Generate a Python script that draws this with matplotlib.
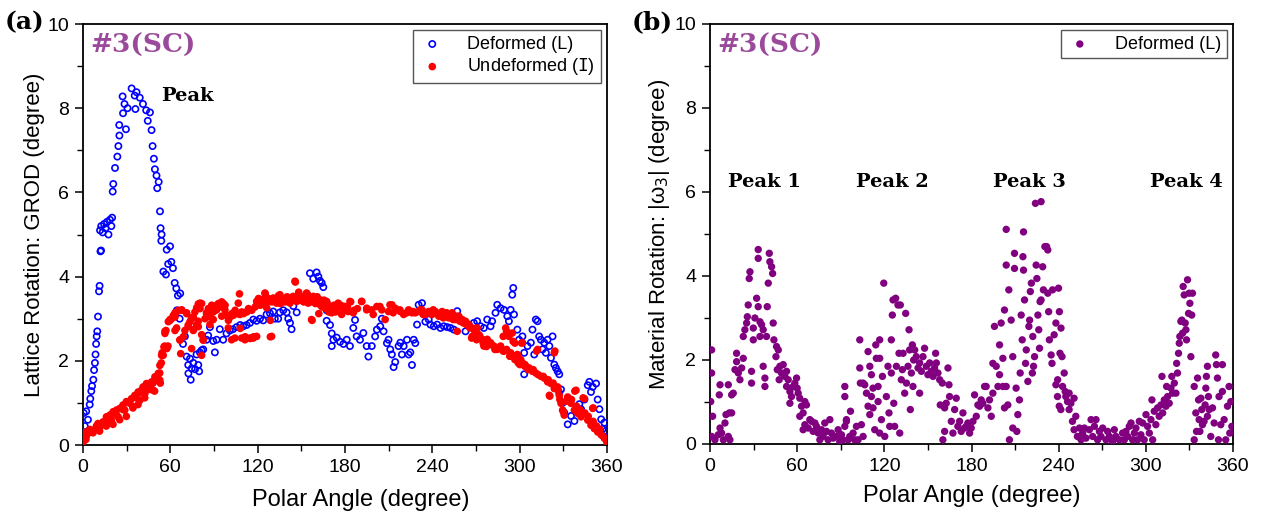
import numpy as np
import matplotlib.pyplot as plt

# (a) lattice rotation vs polar angle
def_ang = [0.5, 1.2, 2.2, 3.4, 4.6, 5.0, 5.7, 6.2, 7.1, 7.6, 8.2, 8.6, 9.0, 9.4, 9.8, 10.3, 11.0, 11.4,
           12.0, 12.4, 11.7, 12.5, 13.5, 14.5, 15.5, 16.5, 17.5, 18.5, 19.5, 20.0, 20.4, 20.8, 22.0, 23.6,
           24.3, 24.9, 25.0, 27.2, 27.5, 28.5, 29.5, 30.6, 33.4, 35.5, 36.0, 36.8, 39.0, 41.2, 43.4, 44.5,
           46.0, 47.1, 47.8, 48.7, 49.4, 50.5, 51.0, 52.0, 52.9, 53.3, 54.0, 53.8, 55.2, 57.0, 57.5, 58.5,
           59.8, 60.7, 61.8, 63.0, 64.1, 65.2, 66.8, 64.5, 66.4, 68.7, 70.0, 71.2, 72.3, 72.4, 73.5, 74.0,
           74.7, 75.8, 77.0, 78.0, 79.2, 79.8, 80.3, 81.5, 82.6, 84.9, 86.0, 87.2, 89.5, 90.6, 91.8, 94.0,
           96.3, 98.6, 100.9, 103.0, 105.5, 108.0, 110.1, 112.4, 114.7, 117.0, 119.3, 121.6, 123.8, 126.1,
           128.4, 130.7, 131.8, 134.1, 135.3, 137.6, 139.9, 141.0, 142.2, 143.3, 144.5, 146.8, 149.1, 151.4,
           153.7, 155.9, 158.2, 160.5, 161.7, 162.8, 164.0, 165.1, 166.3, 167.4, 167.4, 169.7, 170.9, 170.9,
           172.0, 174.3, 176.6, 178.9, 181.2, 183.4, 185.7, 186.9, 188.0, 190.3, 192.6, 194.9, 196.1, 198.4,
           200.7, 201.9, 204.2, 205.3, 206.5, 208.8, 209.9, 211.1, 212.2, 213.4, 214.5, 216.8, 218.0, 219.1,
           220.3, 222.6, 223.7, 224.9, 226.0, 227.2, 228.3, 229.5, 230.6, 232.9, 235.2, 237.5, 238.7, 241.0,
           243.3, 245.6, 247.9, 250.2, 252.5, 254.8, 257.1, 259.4, 262.8, 265.1, 268.5, 270.8, 273.1, 275.4,
           277.7, 280.0, 281.1, 283.4, 284.6, 286.9, 289.2, 291.5, 292.6, 293.8, 294.9, 295.6, 296.1, 298.4,
           299.6, 301.9, 303.1, 303.1, 305.4, 307.7, 308.8, 310.0, 311.1, 312.3, 313.4, 314.6, 315.7, 316.9,
           318.0, 319.2, 320.4, 321.5, 322.6, 323.8, 324.9, 326.1, 327.2, 327.2, 328.4, 329.5, 330.6, 333.0,
           335.3, 337.6, 338.7, 341.0, 342.2, 344.5, 346.8, 347.9, 349.0, 350.2, 352.5, 353.6, 354.8, 356.0,
           357.0, 358.2, 359.4]
def_val = [0.76, 0.45, 0.8, 0.6, 0.96, 1.1, 1.28, 1.4, 1.55, 1.78, 1.95, 2.15, 2.4, 2.58, 2.7, 3.05, 3.65, 3.78,
           4.6, 4.62, 5.1, 5.2, 5.05, 5.25, 5.15, 5.3, 5.0, 5.35, 5.2, 5.4, 6.02, 6.2, 6.58, 6.85,
           7.1, 7.6, 7.35, 8.28, 7.88, 8.1, 7.5, 8.0, 8.47, 8.3, 7.98, 8.38, 8.25, 8.1, 7.95, 7.7,
           7.9, 7.48, 7.1, 6.8, 6.55, 6.4, 6.1, 6.25, 5.55, 5.15, 5.0, 4.85, 4.12, 4.05, 4.64, 4.3,
           4.72, 4.35, 4.2, 3.85, 3.72, 3.55, 3.6, 3.2, 3.0, 2.4, 2.58, 2.1, 1.9, 1.7, 2.05, 1.55,
           1.82, 1.95, 1.8, 2.15, 1.9, 1.75, 2.2, 2.25, 2.27, 2.5, 2.6, 2.8, 2.47, 2.2, 2.5, 2.75,
           2.5, 2.65, 2.72, 2.75, 2.8, 2.85, 2.82, 2.85, 2.9, 2.98, 2.95, 3.0, 2.96, 3.1,
           3.13, 3.17, 3.0, 3.0, 3.15, 3.2, 3.15, 3.0, 2.9, 2.75, 3.3, 3.15, 3.5, 3.5,
           3.58, 4.08, 3.95, 4.1, 4.0, 3.9, 3.85, 3.75, 3.4, 3.2, 2.95, 2.85, 2.65, 2.35,
           2.5, 2.55, 2.45, 2.4, 2.5, 2.35, 2.78, 2.97, 2.58, 2.5, 2.66, 2.35, 2.1, 2.35,
           2.58, 2.74, 2.82, 3.0, 2.7, 2.42, 2.5, 2.27, 2.15, 1.85, 1.97, 2.35, 2.43, 2.15,
           2.35, 2.5, 2.15, 2.2, 1.9, 2.5, 2.42, 2.86, 3.33, 3.37, 2.93, 2.98, 2.86, 2.82,
           2.86, 2.78, 2.82, 2.8, 2.78, 2.74, 3.18, 2.98, 2.7, 2.86, 2.9, 2.94, 2.82, 2.78,
           2.98, 2.82, 2.94, 3.14, 3.33, 3.25, 3.21, 3.06, 2.94, 3.21, 3.57, 3.73, 3.1, 2.74,
           2.5, 2.58, 2.19, 1.68, 2.35, 2.43, 2.74, 2.15, 2.98, 2.94, 2.58, 2.5, 2.27, 2.43,
           2.19, 2.5, 2.35, 2.07, 2.58, 1.91, 1.83, 1.75, 1.68, 1.24, 1.32, 1.0, 0.77, 0.49,
           0.69, 0.57, 0.85, 0.97, 0.85, 1.08, 1.42, 1.5, 1.26, 1.38, 1.46, 1.08, 0.85, 0.61,
           0.38, 0.53, 0.34]

und_ang = [0.2, 2.0, 1.0, 4.5, 7.0, 9.2, 10.3, 11.5, 13.8, 16.1, 16.1, 18.4, 19.5, 20.7, 23.0, 24.1, 25.3,
           27.5, 28.7, 29.8, 32.1, 33.3, 34.4, 35.6, 36.7, 37.9, 39.0, 40.2, 41.3, 42.5, 43.6, 44.8, 45.9,
           47.1, 48.2, 49.4, 50.5, 51.7, 52.8, 52.8, 54.0, 55.1, 55.6, 56.3, 57.0, 57.5, 58.6, 59.8, 60.9,
           62.1, 63.2, 63.2, 64.3, 65.5, 66.6, 67.1, 67.8, 68.9, 70.0, 71.2, 72.3, 73.5, 74.6, 74.6, 75.8,
           75.8, 76.9, 78.0, 79.2, 79.2, 80.4, 81.5, 81.5, 82.6, 83.8, 84.9, 86.1, 87.2, 88.4, 89.5, 90.7,
           91.8, 93.0, 94.1, 95.3, 96.4, 97.6, 98.7, 99.9, 101.0, 102.2, 103.3, 104.5, 105.6, 107.5, 108.0,
           109.1, 110.3, 111.4, 112.6, 113.7, 114.9, 116.0, 117.2, 118.3, 119.5, 120.6, 121.8, 122.9, 124.1,
           125.2, 126.4, 127.5, 128.7, 128.7, 129.8, 131.0, 132.1, 133.3, 134.4, 135.6, 136.7, 137.9, 139.0,
           140.2, 141.3, 142.5, 145.9, 147.1, 148.2, 149.4, 150.5, 151.7, 154.0, 155.1, 156.3, 157.4, 158.6,
           159.7, 160.9, 162.0, 163.2, 164.3, 165.5, 166.6, 167.8, 168.9, 170.1, 171.2, 172.4, 173.5, 174.7,
           177.0, 179.3, 181.6, 183.9, 186.2, 188.5, 191.5, 194.9, 198.4, 201.9, 205.3, 207.6, 209.9, 212.2,
           214.5, 218.0, 220.3, 223.7, 226.0, 228.3, 230.6, 232.9, 235.2, 237.5, 239.8, 242.1, 244.4, 246.7,
           249.0, 251.3, 253.6, 255.9, 257.1, 258.2, 260.5, 262.8, 265.1, 267.4, 267.4, 269.7, 270.8, 272.0,
           274.3, 275.4, 277.7, 280.0, 282.3, 284.6, 286.9, 289.2, 290.4, 291.5, 292.6, 293.8, 294.9, 296.1,
           297.3, 298.4, 300.7, 301.9, 301.9, 304.2, 306.5, 308.8, 311.1, 312.3, 314.6, 316.9, 319.2, 321.5,
           323.8, 323.8, 326.1, 327.2, 320.4, 328.4, 329.5, 330.6, 333.0, 335.3, 337.6, 338.7, 339.9, 342.2,
           344.5, 346.8, 349.0, 350.2, 351.3, 353.6, 356.0, 358.2, 359.8,
           2.3, 4.6, 6.9, 9.2, 11.4, 13.7, 16.0, 18.3, 20.6, 22.9, 25.2, 27.5, 29.8, 32.1, 34.3, 36.6,
           37.8, 40.1, 42.4, 43.5, 45.8, 48.1, 49.2, 51.5, 52.7, 53.1, 53.8, 54.3, 56.1, 58.4,
           56.3, 57.5, 59.8, 63.2, 64.3, 66.6, 67.8, 71.2, 72.3, 74.6, 75.8, 78.1, 79.2, 80.4, 81.5, 82.6,
           84.9, 87.2, 89.5, 91.8, 94.1, 95.3, 97.5, 99.8, 102.1, 104.4, 106.7, 107.8, 109.0, 111.3, 113.5,
           114.7, 117.0, 119.3, 119.3, 121.6, 123.8, 125.0, 126.2, 128.4, 129.6, 130.7, 133.0, 135.3, 137.6,
           139.9, 142.2, 144.4, 145.6, 146.8, 149.0, 151.3, 153.6, 154.7, 157.0, 158.2, 160.5, 162.8, 165.0,
           167.4, 168.5, 170.8, 173.1, 175.3, 177.7, 180.0, 182.2,
           178.8, 183.4, 185.7, 191.4, 194.9, 199.4, 204.0, 210.9, 213.1, 217.7, 222.3, 226.9, 231.5, 233.7,
           238.3, 240.6, 245.2, 247.5, 249.8, 254.3, 256.6, 258.9, 261.2, 263.5, 265.8, 267.0, 269.2, 270.4,
           272.7, 274.9, 277.2, 280.7, 283.0, 286.4, 288.7, 291.0, 293.3, 295.5, 296.7, 299.0, 301.3, 303.6,
           288.7, 291.0, 293.3, 296.7, 297.9, 300.1, 303.6, 305.8, 309.3, 311.6, 312.7, 316.2, 319.6, 323.0,
           324.2, 320.7, 326.4, 327.6, 329.9, 332.2, 335.6, 337.9, 339.1, 341.3, 343.6, 344.8, 347.1, 350.5,
           350.5, 352.8, 355.1, 357.3]
und_val = [0.08, 0.13, 0.3, 0.3, 0.35, 0.39, 0.51, 0.43, 0.55, 0.55, 0.67, 0.71, 0.59, 0.79, 0.83, 0.67, 0.87,
           0.95, 0.83, 1.03, 0.99, 1.1, 0.91, 1.18, 1.14, 1.26, 1.06, 1.3, 1.38, 1.22, 1.46, 1.34, 1.42,
           1.5, 1.3, 1.62, 1.54, 1.7, 1.54, 1.89, 2.13, 2.13, 2.33, 2.65, 2.72, 2.29, 2.93, 2.96, 3.0,
           3.08, 3.04, 2.72, 3.16, 3.2, 2.49, 2.17, 3.2, 2.57, 2.72, 3.12, 2.85, 2.93, 3.0, 2.29, 2.72,
           3.04, 3.16, 2.85, 2.81, 3.35, 3.24, 3.36, 2.13, 2.49, 3.0, 3.12, 3.24, 3.04, 3.32, 3.16, 3.2,
           3.32, 3.36, 3.28, 3.4, 3.36, 3.32, 3.08, 2.96, 3.04, 3.12, 3.08, 3.2, 3.12, 3.59, 2.77,
           3.16, 3.12, 2.57, 3.16, 3.24, 2.53, 3.2, 2.57, 3.28, 3.4, 3.48, 3.32, 3.44, 3.36,
           3.59, 3.4, 3.48, 2.96, 2.57, 3.4, 3.48, 3.44, 3.4, 3.55, 3.36, 3.44, 3.48, 3.4,
           3.52, 3.44, 3.48, 3.87, 3.52, 3.63, 3.44, 3.52, 3.4, 3.59, 3.48, 3.4, 2.96, 3.48,
           3.36, 3.52, 3.12, 3.32, 3.28, 3.44, 3.24, 3.36, 3.16, 3.28, 3.2, 3.32, 3.16, 3.24,
           3.32, 3.2, 3.28, 3.4, 3.2, 3.24, 3.41, 3.25, 3.21, 3.29, 3.21, 2.98, 3.17, 3.33,
           3.25, 3.17, 3.1, 3.21, 3.14, 3.14, 3.17, 3.21, 3.1, 3.17, 3.1, 3.17, 3.06, 3.17,
           3.1, 3.02, 3.14, 2.98, 2.7, 3.06, 2.98, 2.94, 2.86, 2.78, 2.58, 2.55, 2.78, 2.62,
           2.51, 2.35, 2.51, 2.43, 2.35, 2.27, 2.35, 2.23, 2.78, 2.62, 2.58, 2.19, 2.66, 2.11,
           2.03, 2.15, 2.03, 2.43, 1.95, 1.87, 1.83, 1.75, 1.71, 2.27, 1.63, 1.59, 1.5, 1.46,
           2.19, 1.34, 1.38, 1.18, 1.18, 0.99, 0.83, 0.71, 1.14, 0.99, 0.83, 1.3, 0.75, 0.67,
           1.1, 0.59, 0.47, 0.87, 0.39, 0.31, 0.24, 0.16, 0.08,
           0.21, 0.37, 0.29, 0.45, 0.33, 0.53, 0.45, 0.61, 0.49, 0.72, 0.6, 0.84, 0.68, 1.04, 0.88, 1.12,
           0.96, 1.24, 1.12, 1.36, 1.32, 1.47, 1.28, 1.59, 1.71, 1.47, 1.95, 2.19, 2.35, 2.35,
           2.7, 2.3, 2.98, 3.14, 2.78, 2.5, 3.21, 3.14, 2.82, 3.02, 2.74, 3.26, 2.94, 3.37, 2.62, 2.5,
           3.14, 2.86, 2.98, 3.21, 3.33, 3.06, 3.21, 2.78, 2.5, 2.54, 3.37, 3.1, 2.54, 2.5, 3.21,
           2.54, 2.54, 2.58, 3.41, 3.37, 3.45, 3.61, 3.26, 3.41, 2.58, 3.49, 3.37, 3.57, 3.41,
           3.49, 3.37, 3.53, 3.89, 3.41, 3.49, 3.41, 3.61, 3.37, 2.98, 3.53, 3.37, 3.45, 3.29,
           3.41, 3.21, 3.14, 3.26, 3.37, 3.1, 3.29, 3.17,
           3.29, 3.41, 3.14, 3.41, 3.21, 3.1, 3.29, 3.33, 3.14, 3.21, 3.14, 3.17, 3.21, 3.1,
           3.14, 3.21, 3.1, 3.02, 3.14, 2.98, 3.06, 2.94, 2.9, 2.86, 2.78, 2.54, 2.7, 2.5,
           2.58, 2.42, 2.34, 2.38, 2.27, 2.31, 2.23, 2.7, 2.11, 2.46, 2.03, 1.95, 2.42, 1.87,
           2.58, 2.27, 2.11, 2.42, 2.03, 1.91, 1.91, 1.79, 1.79, 2.23, 1.67, 1.63, 1.55, 1.47,
           2.23, 1.16, 1.32, 1.08, 0.8, 1.04, 1.08, 1.28, 0.92, 0.84, 1.12, 0.76, 0.68, 0.88,
           0.56, 0.45, 0.37, 0.21]

# (b) material rotation |w3| vs polar angle
rot_ang = [1.1, 1.1, 0.5, 1.8, 1.1, 3.4, 5.7, 6.9, 6.9, 6.4, 8.0, 9.2, 10.3, 11.0, 12.6, 13.7, 13.3, 14.9,
           12.6, 14.9, 16.0, 17.2, 18.3, 18.3, 19.5, 20.6, 21.8, 22.9, 22.9, 24.0, 25.2, 25.7, 26.3, 27.0,
           27.5, 28.6, 29.8, 28.6, 29.8, 30.9, 32.1, 33.2, 33.2, 33.2, 34.4, 34.4, 35.5, 36.6, 36.6, 37.8,
           37.8, 38.9, 39.4, 40.1, 40.8, 41.2, 42.4, 43.1, 43.5, 44.0, 45.4, 45.8, 47.0, 46.3, 48.1, 47.6,
           49.2, 50.4, 51.5, 52.7, 52.7, 53.8, 55.0, 55.0, 56.1, 57.3, 58.4, 59.6, 60.0, 60.7, 61.8, 63.0,
           61.8, 64.1, 65.3, 66.4, 65.3, 64.1, 67.6, 68.7, 69.9, 71.0, 72.2, 73.3, 74.5, 75.6, 76.7, 77.9,
           79.0, 80.2, 81.3, 82.5, 83.6, 84.8, 87.0, 88.2, 89.3, 90.5, 91.6, 92.8, 93.9, 95.1, 92.8, 92.8,
           93.9, 96.2, 96.7, 98.5, 99.6, 100.8, 101.9, 103.1, 103.1, 103.5, 104.2, 105.4, 105.4, 106.5, 107.7,
           108.8, 108.8, 110.0, 110.0, 111.1, 111.1, 112.2, 112.2, 113.4, 114.1, 114.5, 115.7, 115.7, 116.8,
           116.8, 116.8, 118.0, 118.7, 119.6, 120.3, 121.4, 122.5, 123.2, 123.7, 124.8, 124.8, 125.5, 126.0,
           126.5, 127.1, 127.8, 128.3, 129.4, 130.1, 130.6, 131.0, 131.7, 132.4, 132.9, 134.0, 134.7, 135.2,
           136.3, 137.0, 137.4, 137.9, 138.6, 139.3, 139.7, 140.2, 140.9, 142.0, 143.2, 144.3, 144.3, 145.5,
           146.6, 147.7, 148.9, 150.0, 151.2, 152.3, 153.5, 154.6, 155.3, 155.8, 156.9, 158.1, 158.5, 159.9,
           160.3, 161.5, 161.5, 162.6, 163.8, 164.5, 164.9, 166.1, 167.2, 168.4, 169.5, 170.6, 171.8, 172.9,
           174.1, 175.2, 176.4, 177.5, 178.7, 179.8, 181.0, 182.1, 183.3, 184.4, 185.6, 186.7, 187.8, 189.0,
           190.1, 191.3, 192.4, 193.6, 194.7, 194.7, 195.8, 197.0, 198.2, 199.3, 199.3, 200.4, 201.6, 201.6,
           202.7, 202.7, 203.9, 203.9, 203.9, 205.0, 205.7, 206.1, 207.3, 208.4, 208.4, 209.6, 209.6, 210.7,
           211.2, 211.9, 213.0, 213.5, 214.2, 214.9, 215.4, 215.8, 215.8, 216.5, 217.2, 217.7, 218.8, 219.5,
           220.0, 220.5, 221.2, 221.9, 222.2, 222.7, 223.4, 224.0, 224.5, 225.0, 225.7, 226.3, 226.8, 227.2,
           227.9, 227.9, 229.0, 229.5, 230.5, 231.7, 232.5, 232.5, 233.1, 233.6, 234.8, 235.4, 235.8, 236.9,
           238.1, 239.3, 239.9, 240.5, 240.9, 241.6, 242.3, 238.1, 239.2, 240.4, 241.5, 242.7, 243.8, 244.5,
           244.9, 246.1, 247.2, 247.2, 248.4, 249.5, 250.6, 250.6, 251.8, 252.9, 254.3, 255.4, 256.5, 257.7,
           258.8, 261.1, 262.3, 263.4, 264.6, 265.7, 266.8, 268.0, 269.1, 270.3, 272.6, 273.7, 274.9, 277.1,
           278.3, 279.4, 281.7, 284.0, 285.2, 286.3, 287.5, 288.6, 289.8, 290.9, 292.1, 293.2, 294.3, 295.5,
           296.6, 297.8, 298.9, 300.1, 301.2, 302.4, 303.5, 304.2, 304.7, 305.8, 306.9, 308.1, 309.2, 310.4,
           311.1, 311.6, 312.7, 313.9, 314.3, 315.0, 316.1, 317.3, 317.9, 318.4, 319.6, 320.7, 321.2, 321.8,
           322.5, 323.0, 323.4, 324.1, 324.8, 325.3, 325.7, 326.4, 327.1, 327.6, 328.0, 328.7, 329.4, 329.8,
           330.3, 331.0, 331.6, 332.1, 333.3, 333.3, 334.4, 334.9, 335.6, 336.3, 336.7, 337.2, 337.9, 338.5,
           339.0, 340.1, 340.8, 341.3, 341.7, 342.4, 342.4, 343.1, 343.6, 344.7, 345.9, 347.0, 348.1, 348.6,
           349.3, 350.0, 350.4, 351.6, 352.7, 352.7, 353.9, 355.0, 356.2, 357.3, 357.8, 358.5, 359.2]
rot_val = [2.24, 1.69, 1.01, 0.66, 0.18, 0.1, 0.22, 0.38, 1.41, 1.17, 0.26, 0.1, 0.5, 0.7, 0.18, 0.1, 0.74, 0.74,
           1.41, 1.17, 1.21, 1.77, 1.96, 2.16, 1.69, 1.53, 1.81, 2.04, 2.56, 2.72, 2.88, 3.03, 3.31, 3.94,
           4.1, 1.45, 2.48, 1.73, 2.76, 3.0, 3.47, 4.63, 4.42, 3.27, 2.56, 2.91, 2.84, 2.72, 1.85, 1.37,
           1.57, 2.56, 3.27, 3.83, 4.54, 4.34, 4.22, 4.06, 2.88, 2.48, 2.08, 2.32, 2.24, 1.77, 1.85, 1.53,
           1.69, 1.89, 1.61, 1.73, 1.37, 1.53, 1.25, 0.97, 1.13, 1.37, 1.45, 1.57, 1.33, 1.21, 1.09, 0.9,
           0.66, 0.74, 1.01, 0.93, 0.46, 0.34, 0.38, 0.58, 0.54, 0.3, 0.5, 0.42, 0.26, 0.1, 0.34, 0.18,
           0.5, 0.3, 0.1, 0.58, 0.26, 0.14, 0.18, 0.34, 0.06, 0.22, 0.1, 0.42, 0.54, 0.1, 1.13, 1.37,
           0.58, 0.18, 0.78, 0.26, 0.1, 0.42, 0.1, 2.48, 1.81, 1.45, 0.46, 0.18, 1.45, 1.41, 1.21,
           2.2, 0.9, 1.85, 0.7, 1.65, 1.13, 1.33, 0.86, 0.34, 2.36, 2.04, 1.37, 1.01, 2.48,
           2.04, 0.26, 0.58, 1.61, 3.83, 0.18, 1.13, 1.85, 0.74, 0.42, 2.48, 1.69, 3.07, 3.43,
           0.97, 0.42, 3.47, 1.85, 3.31, 2.16, 0.26, 3.31, 1.53, 1.77, 2.16, 1.21, 3.11, 1.45,
           1.85, 2.72, 2.24, 0.82, 1.69, 2.36, 1.37, 2.0, 2.24, 2.08, 1.81, 1.21, 1.93, 1.73,
           2.08, 2.28, 1.85, 1.65, 1.93, 1.73, 1.61, 1.81, 2.16, 1.93, 1.69, 1.53, 0.93, 1.45,
           0.1, 0.86, 0.3, 0.97, 1.81, 1.41, 1.13, 0.54, 0.26, 0.82, 1.09, 0.42, 0.54, 0.3,
           0.74, 0.38, 0.42, 0.5, 0.26, 0.38, 0.54, 1.17, 0.66, 0.93, 0.9, 1.05, 0.97, 1.37,
           1.37, 0.86, 1.05, 0.66, 1.21, 1.92, 2.8, 1.85, 1.37, 1.65, 2.36, 2.88, 2.04, 1.37,
           0.86, 3.19, 1.37, 4.26, 5.11, 0.93, 3.67, 0.1, 2.95, 0.38, 2.08, 4.54, 4.18, 1.33,
           0.3, 0.7, 1.05, 1.69, 3.07, 2.48, 4.46, 4.14, 5.05, 3.43, 1.92, 2.24, 1.49, 2.8,
           2.95, 3.63, 3.83, 1.69, 2.56, 1.85, 2.08, 5.73, 4.26, 3.94, 3.07, 2.72, 2.28, 3.39,
           3.43, 5.77, 4.22, 3.67, 4.7, 4.7, 4.62, 3.59, 3.15, 2.48, 2.12, 1.92, 3.67, 2.6,
           2.88, 1.53, 3.71, 3.15, 2.16, 2.76, 2.08, 1.41, 1.13, 0.9, 0.82, 1.37, 1.69, 1.25,
           1.13, 1.01, 0.82, 1.21, 0.97, 0.54, 1.09, 0.34, 0.66, 0.18, 0.38, 0.1, 0.26, 0.38,
           0.14, 0.34, 0.58, 0.18, 0.42, 0.58, 0.1, 0.3, 0.18, 0.38, 0.1, 0.3, 0.18, 0.06,
           0.34, 0.18, 0.1, 0.26, 0.1, 0.3, 0.18, 0.42, 0.5, 0.1, 0.26, 0.38, 0.1, 0.54,
           0.22, 0.5, 0.1, 0.7, 0.42, 0.26, 0.58, 1.05, 0.1, 0.78, 0.46, 0.86, 0.66, 0.93,
           1.61, 0.74, 1.05, 0.9, 1.37, 1.13, 0.97, 1.33, 1.61, 1.21, 1.45, 1.21, 1.92, 1.69,
           2.16, 2.4, 2.56, 2.92, 2.95, 2.64, 3.75, 3.55, 2.88, 2.72, 2.48, 3.91, 3.11, 3.59,
           3.35, 2.08, 3.07, 3.59, 1.37, 0.1, 0.74, 0.3, 1.57, 1.05, 0.58, 0.3, 1.09, 0.82,
           0.46, 0.54, 0.93, 1.33, 1.61, 1.85, 0.66, 1.13, 0.82, 0.18, 0.86, 0.5, 2.12, 1.89,
           1.57, 0.1, 1.13, 0.46, 1.89, 1.25, 0.58, 0.1, 0.9, 1.37, 0.26, 1.01, 0.42]

W, H = 1262, 514
fig = plt.figure(figsize=(W / 100, H / 100), dpi=100)
ax1 = fig.add_axes([83 / W, 69 / H, 524 / W, 421 / H])
ax2 = fig.add_axes([710 / W, 70 / H, 523 / W, 420 / H])

tick_font = 'Liberation Sans'
title_color = '#9b4a9b'

ax1.scatter(def_ang, def_val, s=20, facecolors='none', edgecolors='#0000ff', linewidths=1.2,
            label='Deformed (L)', zorder=3)
ax1.scatter(und_ang, und_val, s=30, color='#ff0000', edgecolors='none',
            label=r'Undeformed ($\mathtt{I}$)', zorder=4)
ax2.scatter(rot_ang, rot_val, s=28, color='#800080', edgecolors='none', label='Deformed (L)', zorder=3)

for ax in (ax1, ax2):
    ax.set_xlim(0, 360)
    ax.set_ylim(0, 10)
    ax.set_xticks(np.arange(0, 361, 60))
    ax.set_xticks(np.arange(30, 361, 60), minor=True)
    ax.set_yticks(np.arange(0, 11, 2))
    ax.set_yticks(np.arange(1, 10, 2), minor=True)
    ax.tick_params(which='major', direction='out', length=6, width=1.1, labelsize=14, pad=4)
    ax.tick_params(which='minor', direction='out', length=4, width=1.0)
    for sp in ax.spines.values():
        sp.set_linewidth(1.3)
    for lab in ax.get_xticklabels() + ax.get_yticklabels():
        lab.set_fontfamily(tick_font)
    ax.set_xlabel('Polar Angle (degree)', fontsize=17, family=tick_font, labelpad=7)
    ax.text(0.014, 0.95, '#3(SC)', transform=ax.transAxes, fontsize=19, fontweight='bold',
            family='DejaVu Serif', color=title_color, va='center', ha='left')

ax1.xaxis.set_label_coords(0.53, -0.105)
ax1.set_ylabel('Lattice Rotation: GROD (degree)', fontsize=16, family=tick_font, labelpad=2)
ax2.set_ylabel(r'Material Rotation: |ω$_3$| (degree)', fontsize=16, family=tick_font, labelpad=2)

leg1 = ax1.legend(loc='upper right', prop={'family': tick_font, 'size': 13}, fancybox=False,
                  edgecolor='#555555', framealpha=1, handletextpad=1.2, borderpad=0.3,
                  labelspacing=0.2, borderaxespad=0.35, handlelength=1.5)
leg1.get_frame().set_linewidth(1.0)
leg2 = ax2.legend(loc='upper right', prop={'family': tick_font, 'size': 13}, fancybox=False,
                  edgecolor='#555555', framealpha=1, handletextpad=1.2, borderpad=0.3,
                  borderaxespad=0.35, handlelength=1.5)
leg2.get_frame().set_linewidth(1.0)

peak_font = dict(fontsize=14, fontweight='bold', family='DejaVu Serif', ha='center', va='center')
ax1.text(71.5, 8.3, 'Peak', **peak_font)
for x, name in zip([37.8, 125.8, 220.0, 327.8], ['Peak 1', 'Peak 2', 'Peak 3', 'Peak 4']):
    ax2.text(x, 6.23, name, **peak_font)

fig.text(5 / W, 1 - 22 / H, '(a)', fontsize=18, fontweight='bold', family='DejaVu Serif', va='center')
fig.text(632 / W, 1 - 22 / H, '(b)', fontsize=18, fontweight='bold', family='DejaVu Serif', va='center')

fig.savefig('out.png', dpi=100)
